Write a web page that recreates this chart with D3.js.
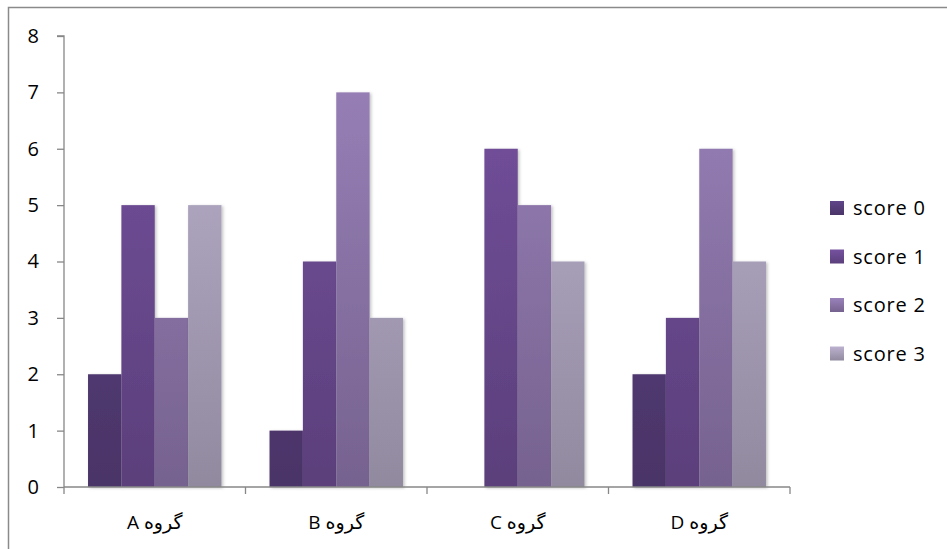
<!DOCTYPE html>
<html><head><meta charset="utf-8">
<script src="https://cdn.jsdelivr.net/npm/d3@7"></script>
<style>body{margin:0;background:#fff}svg{display:block}</style>
</head><body><svg id="c" width="947" height="549"></svg>
<script>
const categories = ["گروه A", "گروه B", "گروه C", "گروه D"];
const seriesNames = ["score 0", "score 1", "score 2", "score 3"];
const score0 = [2, 1, 0, 2];
const score1 = [5, 4, 6, 3];
const score2 = [3, 7, 5, 6];
const score3 = [5, 3, 4, 4];
const yTicks = [0, 1, 2, 3, 4, 5, 6, 7, 8];
const colorsTop = ["#604589", "#7652a0", "#9a82ba", "#bcb1cf"];
const colorsBottom = ["#4a3467", "#5b3f7b", "#76628f", "#918a9f"];

const series = [score0, score1, score2, score3];
const svg = d3.select("#c");
const font = "'Open Sans', 'DejaVu Sans', sans-serif";
const axisColor = "#878787";

// frame
svg.append("rect").attr("x", 8.5).attr("y", 7.5).attr("width", 1000).attr("height", 1000)
  .attr("fill", "none").attr("stroke", "#8a8a8a").attr("stroke-width", 1.5);

const mLeft = 64, mRight = 790, mTop = 36, mBottom = 487;
const x0 = d3.scaleBand().domain(categories).range([mLeft, mRight]).paddingInner(0).paddingOuter(0);
const x1 = d3.scaleBand().domain(seriesNames).range([0, x0.bandwidth()]).paddingOuter(0.72).paddingInner(0);
const y = d3.scaleLinear().domain([0, 8]).range([mBottom, mTop]);

const defs = svg.append("defs");
seriesNames.forEach((s, i) => {
  const g = defs.append("linearGradient").attr("id", "g" + i).attr("x1", 0).attr("x2", 0)
    .attr("gradientUnits", "userSpaceOnUse").attr("y1", mTop).attr("y2", mBottom);
  g.append("stop").attr("offset", 0).attr("stop-color", colorsTop[i]);
  g.append("stop").attr("offset", 1).attr("stop-color", colorsBottom[i]);
  const lgr = defs.append("linearGradient").attr("id", "lgg" + i).attr("x1", 0).attr("y1", 0).attr("x2", 0).attr("y2", 1);
  lgr.append("stop").attr("offset", 0).attr("stop-color", colorsTop[i]);
  lgr.append("stop").attr("offset", 1).attr("stop-color", colorsBottom[i]);
});
const f = defs.append("filter").attr("id", "sh").attr("x", "-20%").attr("y", "-5%").attr("width", "150%").attr("height", "120%");
f.append("feDropShadow").attr("dx", 1.5).attr("dy", 1).attr("stdDeviation", 1.5).attr("flood-color", "#000").attr("flood-opacity", 0.25);

// bars
const gBars = svg.append("g");
categories.forEach((c, ci) => {
  seriesNames.forEach((s, si) => {
    const v = series[si][ci];
    if (v <= 0) return;
    gBars.append("rect")
      .attr("x", x0(c) + x1(s))
      .attr("y", y(v))
      .attr("width", x1.bandwidth())
      .attr("height", y(0) - y(v))
      .attr("fill", `url(#g${si})`)
      .attr("filter", "url(#sh)");
  });
});

// y axis
const yAxis = svg.append("g").attr("transform", `translate(${mLeft},0)`)
  .call(d3.axisLeft(y).tickValues(yTicks).tickSize(7).tickPadding(18).tickFormat(d3.format("d")));
yAxis.select(".domain").attr("stroke", axisColor).attr("stroke-width", 1.3).attr("d", `M-7,${mTop}H0V${mBottom}`);
yAxis.selectAll(".tick line").attr("stroke", axisColor).attr("stroke-width", 1.3);
yAxis.selectAll(".tick text").attr("font-family", font).attr("font-size", 20).attr("fill", "#000");

// x axis
const xAxis = svg.append("g").attr("transform", `translate(0,${mBottom})`);
xAxis.append("line").attr("x1", mLeft).attr("x2", mRight).attr("y1", 0).attr("y2", 0)
  .attr("stroke", axisColor).attr("stroke-width", 1.3);
const bounds = categories.map(c => x0(c)).concat([x0(categories[categories.length - 1]) + x0.bandwidth()]);
xAxis.selectAll("line.t").data(bounds).enter().append("line").attr("class", "t")
  .attr("x1", d => d).attr("x2", d => d).attr("y1", 0).attr("y2", 7)
  .attr("stroke", axisColor).attr("stroke-width", 1.3);
xAxis.selectAll("text.lbl").data(categories).enter().append("text").attr("class", "lbl")
  .attr("x", d => x0(d) + x0.bandwidth() / 2).attr("y", 42)
  .attr("text-anchor", "middle").attr("direction", "rtl")
  .attr("font-family", font).attr("font-size", 19).attr("fill", "#000")
  .text(d => d);

// legend
const lg = svg.append("g").attr("transform", "translate(830,0)");
seriesNames.forEach((s, i) => {
  const cy = 208 + i * 48.5;
  lg.append("rect").attr("x", 0).attr("y", cy - 7).attr("width", 14).attr("height", 14)
    .attr("fill", `url(#lgg${i})`);
  lg.append("text").attr("x", 23).attr("y", cy).attr("dy", "0.35em")
    .attr("font-family", font).attr("font-size", 20).attr("letter-spacing", 0.8).attr("fill", "#000").text(s);
});
</script></body></html>
